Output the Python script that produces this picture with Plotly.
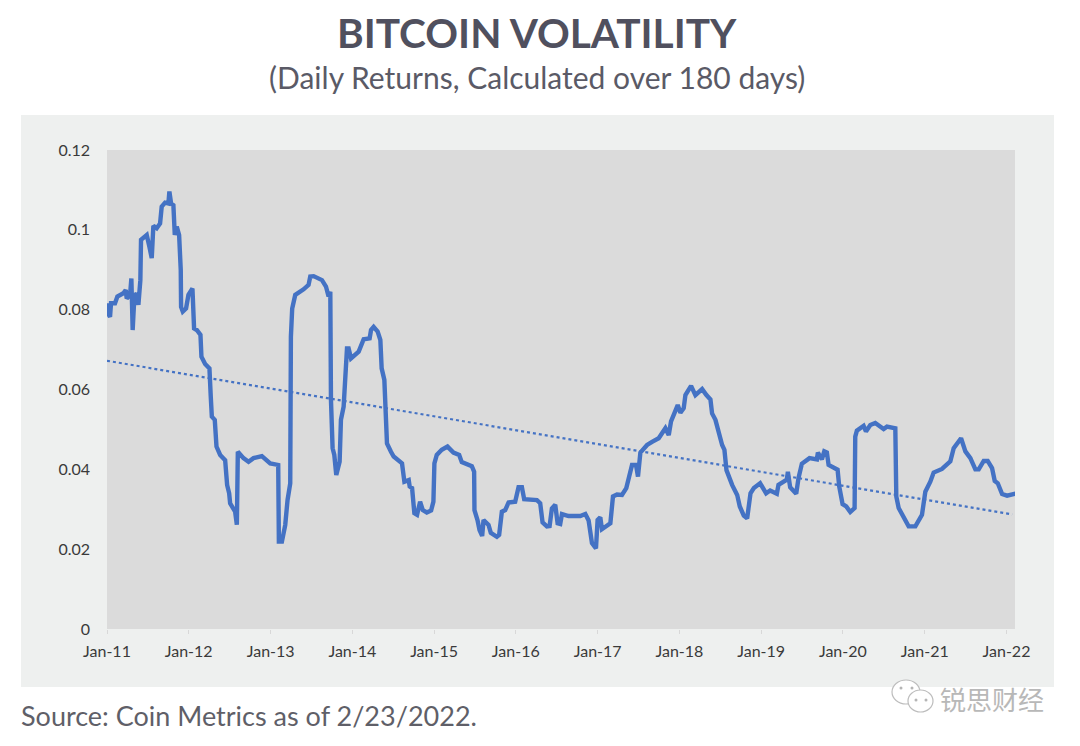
import pandas as pd
import plotly.graph_objects as go

# Years elapsed since Jan-2011, and 180-day volatility
years_since_2011 = [
0,.012,.037,.049,.098,.127,.2,.229,.241,.282,.298,.314,.335,.363,.384,.408,.416,.445,.486,.518,.547,.567,.608,.649,.669,.71,.751,.763,.784,.812,.829,.853,.882,.902,.906,.927,.967,.996,1.045,1.065,1.098,1.143,1.155,1.2,1.253,1.269,1.282,1.318,1.339,1.384,1.445,1.469,1.494,1.506,1.535,1.567,1.588,1.6,1.669,1.731,1.792,1.894,1.996,2.094,2.102,2.139,2.18,2.208,2.241,2.249,2.265,2.302,2.404,2.465,2.486,2.527,2.629,2.678,2.71,2.731,2.739,2.759,2.78,2.804,2.845,2.861,2.894,2.914,2.935,2.955,2.984,3.078,3.139,3.212,3.229,3.261,3.31,3.343,3.359,3.392,3.404,3.424,3.473,3.506,3.608,3.637,3.69,3.702,3.731,3.759,3.792,
3.829,3.862,3.911,3.964,3.992,4.004,4.033,4.094,4.164,4.237,4.307,4.339,4.462,4.49,4.494,4.531,4.556,4.588,4.605,4.666,4.694,4.768,4.796,4.829,4.87,4.911,4.992,5.033,5.074,5.102,5.258,5.298,5.327,5.38,5.413,5.441,5.482,5.511,5.543,5.564,5.645,5.788,5.85,5.89,5.931,5.98,6.0,6.033,6.053,6.156,6.188,6.237,6.298,6.351,6.421,6.47,6.494,6.523,6.605,6.666,6.747,6.829,6.87,6.898,6.98,7.013,7.053,7.074,7.143,7.196,7.278,7.331,7.38,7.4,7.441,7.523,7.551,7.576,7.645,7.707,7.739,7.788,7.829,7.87,7.911,7.988,
8.061,8.11,8.192,8.212,8.314,8.327,8.355,8.429,8.457,8.498,8.592,8.682,8.694,8.743,8.772,8.804,8.825,8.935,8.955,8.996,9.041,9.09,9.143,9.151,9.171,9.253,9.282,9.335,9.396,9.498,9.539,9.641,9.653,9.682,9.743,9.804,9.886,9.967,10.008,10.069,10.11,10.212,10.314,10.355,10.445,10.498,10.559,10.62,10.661,10.722,10.771,10.824,10.857,10.894,10.947,11.008,11.11]

volatility = [
.0816,.0791,.0782,.0816,.0816,.0833,.0841,.0849,.0828,.0837,.0878,.0749,.0833,.0841,.0812,.0874,.0975,.0979,.0987,.0958,.0929,.1010,.1004,.1016,.1058,.1068,.1066,.1096,.1066,.1062,.0987,.1008,.0987,.0899,.0807,.0795,.0803,.0837,.0853,.0753,.0749,.0737,.0682,.0664,.0653,.0582,.0532,.0524,.0457,.0436,.0423,.0361,.0340,.0315,.0306,.0294,.0261,.0444,.0428,.0419,.0428,.0433,.0415,.0411,.0219,.0219,.0261,.0323,.0365,.0732,.0803,.0837,.0851,.0862,.0883,.0884,.0874,.0858,.0833,.0845,.0574,.0453,.0436,.0386,.0419,.0524,.0557,.0611,.0703,.0703,.0678,.0695,.0726,.0728,.0749,.0757,.0745,.0724,.0653,.0624,.0578,.0465,.0444,.0432,.0415,.0369,.0373,.0357,.0353,.0290,.0286,
.0319,.0298,.0292,.0297,.0319,.0415,.0436,.0449,.0457,.0442,.0436,.0418,.0408,.0394,.0298,.0273,.0248,.0233,.0273,.0261,.0241,.0231,.0236,.0294,.0298,.0317,.0319,.0355,.0355,.0325,.0323,.0315,.0267,.0257,.0258,.0302,.0311,.0265,.0263,.0288,.0283,.0283,.0288,.0272,.0215,.0202,.0273,.0280,.0250,.0265,.0332,.0337,.0336,.0353,.0411,.0411,.0382,.0442,.0461,.0469,.0478,.0503,.0486,.0520,.0561,.0542,.0553,.0586,.0609,.0586,.0601,.0586,.0575,.0540,.0524,.0461,.0449,.0398,.0361,.0336,.0307,.0284,.0277,.0340,.0353,.0365,
.0340,.0347,.0339,.0361,.0374,.0394,.0355,.0339,.0378,.0414,.0428,.0425,.0442,.0425,.0445,.0442,.0411,.0399,.0357,.0313,.0307,.0293,.0303,.0482,.0497,.0509,.0495,.0511,.0516,.0501,.0507,.0503,.0332,.0303,.0278,.0257,.0257,.0286,.0344,.0369,.0392,.0401,.0420,.0453,.0478,.0445,.0428,.0400,.0400,.0421,.0421,.0403,.0371,.0365,.0338,.0334,.0339]

trend_years = [0, 11.07]
trend_values = [.0672, .0287]

y_ticks = [0, .02, .04, .06, .08, .1, .12]
y_labels = ["0", "0.02", "0.04", "0.06", "0.08", "0.1", "0.12"]

TITLE = "BITCOIN VOLATILITY"
SUBTITLE = "(Daily Returns, Calculated over 180 days)"
SOURCE = "Source: Coin Metrics as of 2/23/2022."
WATERMARK = "锐思财经"

W, H = 1080, 746
L, R, T, B = 107, 1015, 150, 629
def to_dates(ts):
    return pd.Timestamp("2011-01-01") + pd.to_timedelta([t * 365.25 for t in ts], unit="D")
def px(x): return (x - L) / (R - L)
def py(y): return (B - y) / (B - T)

fig = go.Figure()
fig.add_trace(go.Scatter(x=to_dates(years_since_2011), y=volatility, mode="lines",
                         line=dict(color="#4472C4", width=4.4), showlegend=False))
fig.add_trace(go.Scatter(x=to_dates(trend_years), y=trend_values, mode="lines",
                         line=dict(color="#4472C4", width=2.2, dash="dot"), showlegend=False))

def rect(x0, y0, x1, y1, color):
    return dict(type="rect", xref="paper", yref="paper", x0=px(x0), x1=px(x1), y0=py(y1), y1=py(y0),
                fillcolor=color, line_width=0, layer="below")
shapes = [rect(21, 115, 1054, 687, "#EEF0EF"), rect(L, T, R, B, "#DBDBDB")]
# WeChat mark of the watermark
for (x0, y0, x1, y1) in [(892, 680, 920, 704), (908, 690, 933, 712)]:
    shapes.append(dict(type="circle", xref="paper", yref="paper", x0=px(x0), x1=px(x1), y0=py(y1), y1=py(y0),
                       fillcolor="white", line=dict(color="#BDBDBD", width=1.2), layer="above"))
for (cx, cy) in [(901, 688), (912, 688), (916, 700), (926, 700)]:
    shapes.append(dict(type="circle", xref="paper", yref="paper", x0=px(cx-1.5), x1=px(cx+1.5), y0=py(cy+1.5), y1=py(cy-1.5),
                       fillcolor="#B5B5B5", line_width=0, layer="above"))

def label(text, x, y, size, color, family="Lato", anchor="center", bold=False):
    return dict(text=f"<b>{text}</b>" if bold else text, x=px(x), y=py(y), xref="paper", yref="paper",
                xanchor=anchor, yanchor="middle", showarrow=False,
                font=dict(family=family, size=size, color=color))

fig.update_layout(
    width=W, height=H, autosize=False,
    margin=dict(l=L, r=W - R, t=T, b=H - B),
    paper_bgcolor="white", plot_bgcolor="rgba(0,0,0,0)",
    showlegend=False, shapes=shapes,
    annotations=[
        label(TITLE, 537, 33, 40.6, "#50505E", bold=True),
        label(SUBTITLE, 537, 77, 30, "#5A5A66"),
        label(SOURCE, 19, 715, 27, "#5F5F68", anchor="left"),
        label(WATERMARK, 992, 698, 26, "#B8B8B8", family="Noto Sans CJK SC"),
    ],
    xaxis=dict(type="date", range=["2011-01-01", "2022-02-08"], tick0="2011-01-01", dtick="M12",
               tickformat="%b-%y", ticks="outside", ticklen=4, tickwidth=1, tickcolor="#D8D8D8",
               showgrid=False, zeroline=False, showline=False, ticklabelstandoff=4,
               tickfont=dict(family="Lato", size=16, color="#3A3A3A")),
    yaxis=dict(range=[0, .12], tickvals=y_ticks, ticktext=y_labels, ticks="", showgrid=False,
               zeroline=False, showline=False, ticklabelstandoff=16,
               tickfont=dict(family="Lato", size=16, color="#3A3A3A")),
)
fig.write_html("out.html", config={"displayModeBar": False},
               post_script="document.body.style.margin='0';")
